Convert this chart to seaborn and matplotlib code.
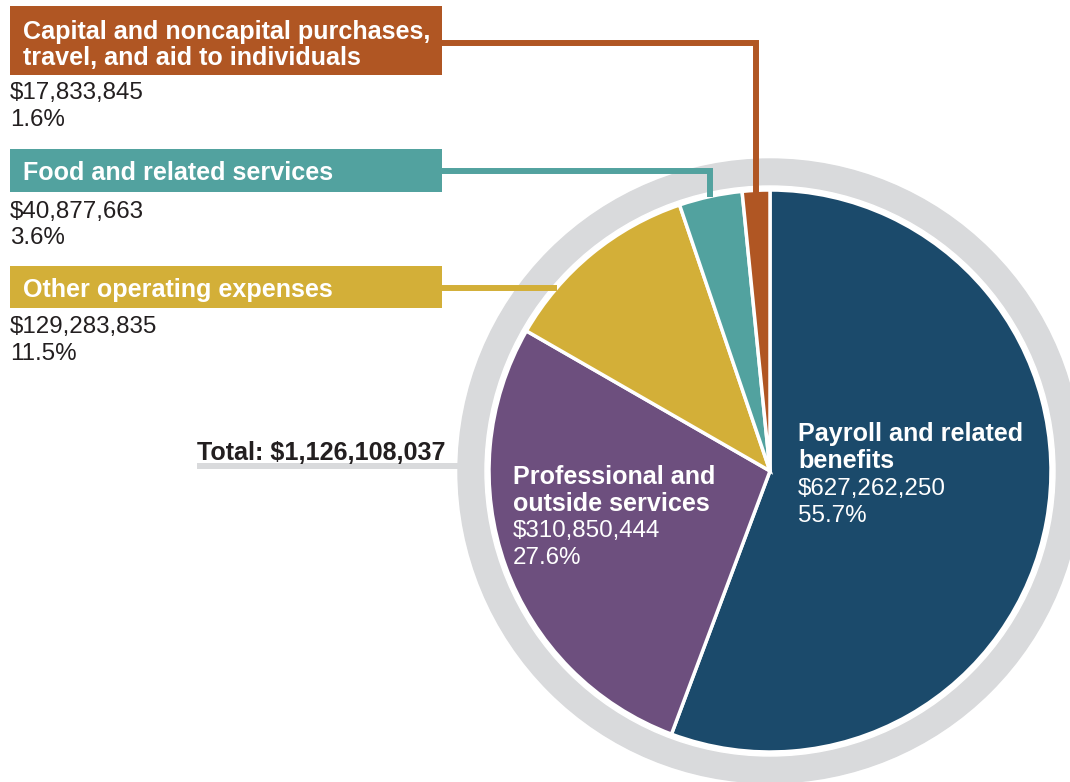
import seaborn as sns
import matplotlib.pyplot as plt
from matplotlib.patches import Circle, Rectangle

# Data
categories = [
    "Payroll and related benefits",
    "Professional and outside services",
    "Other operating expenses",
    "Food and related services",
    "Capital and noncapital purchases, travel, and aid to individuals",
]
amounts = [627262250, 310850444, 129283835, 40877663, 17833845]
amount_labels = ["$627,262,250", "$310,850,444", "$129,283,835", "$40,877,663", "$17,833,845"]
pct_labels = ["55.7%", "27.6%", "11.5%", "3.6%", "1.6%"]
total_label = "Total: $1,126,108,037"

colors = ["#1b4a6b", "#6d4f7e", "#d3af38", "#52a29f", "#b05623"]
ring_gray = "#d9dadc"
text_dark = "#231f20"

sns.set_theme(style="white")
plt.rcParams["font.family"] = ["Liberation Sans", "DejaVu Sans"]

W, H = 1070, 782
fig = plt.figure(figsize=(W / 100, H / 100), dpi=100)
ax = fig.add_axes([0, 0, 1, 1])


def fy(y):
    # pixel y (from top) -> data y
    return H - y


def ty(y):
    # text centre nudge (bbox includes descenders)
    return H - y - 2


cx, cy, r = 770, fy(471), 281

# gray ring and white gap
ax.add_patch(Circle((cx, cy), 312, color=ring_gray, zorder=1))
ax.add_patch(Circle((cx, cy), 285, color="white", zorder=2))

wedges, _ = ax.pie(
    amounts, colors=colors, startangle=90, counterclock=False,
    center=(cx, cy), radius=r, frame=True,
    wedgeprops={"edgecolor": "white", "linewidth": 2.5, "zorder": 3},
)
ax.set_xlim(0, W)
ax.set_ylim(0, H)
ax.set_aspect("equal")
ax.axis("off")

fb = 18.1   # bold size
fr = 17.4   # regular size

# left-side label boxes: (category index, box top, box bottom, title lines, title y, value y)
boxes = [
    (4, 6, 75, ["Capital and noncapital purchases,", "travel, and aid to individuals"], [30, 56], [91, 118]),
    (3, 149, 192, ["Food and related services"], [171], [210, 236]),
    (2, 266, 308, ["Other operating expenses"], [288], [325, 352]),
]
for idx, top, bot, lines, ly, vy in boxes:
    ax.add_patch(Rectangle((10, fy(bot)), 432, bot - top, color=colors[idx], zorder=4, lw=0))
    for t, y in zip(lines, ly):
        ax.text(23, ty(y), t, color="white", fontsize=fb, fontweight="bold",
                va="center", ha="left", zorder=5)
    ax.text(10, ty(vy[0]), amount_labels[idx], color=text_dark, fontsize=fr, va="center", zorder=5)
    ax.text(10, ty(vy[1]), pct_labels[idx], color=text_dark, fontsize=fr, va="center", zorder=5)

# connector lines
lw = 4.3
ax.plot([442, 756, 756], [fy(43), fy(43), fy(193)], color=colors[4], lw=lw,
        solid_joinstyle="miter", solid_capstyle="butt", zorder=4)
ax.plot([442, 710, 710], [fy(171), fy(171), fy(197)], color=colors[3], lw=lw,
        solid_joinstyle="miter", solid_capstyle="butt", zorder=4)
ax.plot([442, 557], [fy(288), fy(288)], color=colors[2], lw=lw,
        solid_capstyle="butt", zorder=4)

# total label
ax.text(197, ty(451), total_label, color=text_dark, fontsize=fb, fontweight="bold",
        va="center", ha="left", zorder=5)
ax.plot([197, 470], [fy(466), fy(466)], color=ring_gray, lw=4.3,
        solid_capstyle="butt", zorder=1)

# in-pie labels
ax.text(798, ty(432), "Payroll and related", color="white", fontsize=fb, fontweight="bold", va="center", zorder=5)
ax.text(798, ty(459), "benefits", color="white", fontsize=fb, fontweight="bold", va="center", zorder=5)
ax.text(798, ty(487), amount_labels[0], color="white", fontsize=fr, va="center", zorder=5)
ax.text(798, ty(514), pct_labels[0], color="white", fontsize=fr, va="center", zorder=5)

ax.text(513, ty(475), "Professional and", color="white", fontsize=fb, fontweight="bold", va="center", zorder=5)
ax.text(513, ty(502), "outside services", color="white", fontsize=fb, fontweight="bold", va="center", zorder=5)
ax.text(513, ty(529), amount_labels[1], color="white", fontsize=fr, va="center", zorder=5)
ax.text(513, ty(556), pct_labels[1], color="white", fontsize=fr, va="center", zorder=5)

fig.savefig("out.png", dpi=100)
